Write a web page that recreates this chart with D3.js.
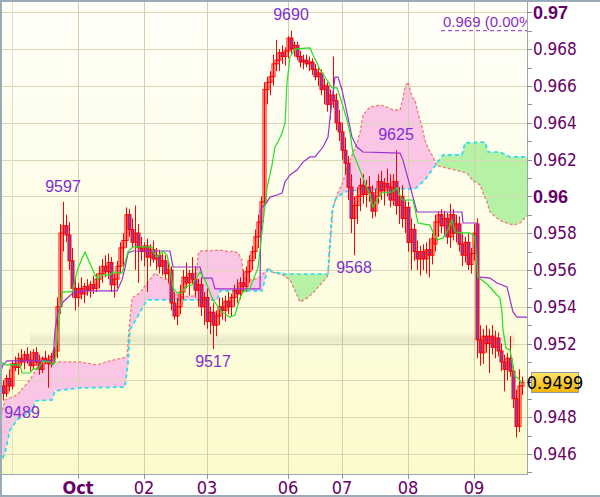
<!DOCTYPE html>
<html><head><meta charset="utf-8">
<script src="https://cdn.jsdelivr.net/npm/d3@7"></script>
<style>
html,body{margin:0;padding:0;background:#fff;}
svg{display:block;}
</style></head><body>
<svg id="chart" width="600" height="497"></svg>
<script>
// ---------- DATA (prices in pips: price x 10000) ----------
const opens  = [9497,9493,9501,9497,9509,9507,9512,9510,9514,9511,9508,9515,9510,9506,9512,9511,9509,9513,9516,9540,
9580,9584,9579,9565,9550,9545,9550,9547,9551,9549,9552,9550,9555,9558,9562,9559,9564,9552,9555,9562,
9572,9576,9590,9582,9575,9580,9572,9570,9573,9567,9571,9566,9568,9562,9565,9558,9560,9542,9535,9540,
9548,9556,9553,9558,9555,9549,9552,9540,9545,9532,9537,9530,9535,9540,9538,9543,9540,9545,9549,9547,
9553,9551,9559,9565,9570,9578,9586,9597,9658,9662,9665,9672,9674,9678,9676,9679,9686,9680,9682,9676,
9673,9674,9672,9673,9669,9665,9667,9658,9660,9650,9655,9652,9640,9635,9625,9618,9605,9588,9595,9600,
9606,9601,9605,9602,9592,9600,9608,9603,9607,9605,9598,9608,9595,9600,9588,9594,9575,9582,9570,9566,
9570,9566,9571,9568,9574,9586,9590,9584,9588,9578,9590,9580,9585,9574,9568,9575,9563,9569,9585,9522,
9515,9524,9520,9524,9518,9523,9516,9510,9506,9512,9505,9490,9475,9497];
const highs  = [9500,9503,9506,9511,9513,9515,9517,9516,9518,9516,9517,9518,9514,9513,9516,9514,9515,9518,9545,9585,
9597,9590,9586,9572,9556,9553,9556,9553,9555,9554,9557,9558,9562,9566,9568,9569,9567,9558,9565,9575,
9580,9594,9593,9588,9595,9585,9578,9575,9577,9574,9576,9572,9571,9569,9568,9564,9562,9548,9545,9552,
9560,9564,9560,9567,9562,9555,9556,9548,9550,9540,9542,9538,9545,9545,9546,9548,9547,9552,9555,9556,
9560,9562,9568,9573,9582,9590,9600,9662,9665,9668,9677,9685,9680,9682,9681,9687,9690,9684,9684,9679,
9677,9677,9676,9675,9672,9670,9669,9664,9662,9658,9676,9656,9647,9640,9632,9622,9612,9600,9605,9610,
9612,9609,9611,9606,9604,9612,9614,9610,9615,9612,9612,9625,9605,9606,9598,9597,9588,9585,9576,9573,
9574,9575,9577,9580,9590,9592,9593,9592,9591,9596,9593,9590,9589,9580,9578,9580,9572,9585,9588,9530,
9528,9530,9528,9530,9527,9526,9520,9514,9515,9524,9508,9495,9506,9502];
const lows   = [9489,9491,9494,9495,9505,9503,9508,9506,9509,9505,9506,9508,9503,9504,9509,9496,9507,9510,9512,9536,
9570,9575,9560,9545,9538,9540,9544,9542,9546,9545,9547,9548,9550,9553,9556,9555,9548,9545,9550,9558,
9560,9572,9578,9572,9560,9553,9565,9562,9548,9562,9564,9560,9558,9557,9555,9553,9538,9533,9530,9536,
9544,9550,9546,9552,9545,9540,9535,9530,9528,9525,9517,9524,9530,9533,9532,9536,9535,9540,9542,9544,
9548,9548,9553,9560,9566,9572,9580,9595,9650,9655,9660,9668,9668,9672,9671,9675,9677,9676,9674,9670,
9669,9670,9668,9666,9663,9660,9655,9650,9646,9642,9648,9636,9630,9620,9612,9598,9580,9568,9585,9592,
9596,9594,9597,9588,9589,9596,9598,9595,9600,9594,9595,9590,9585,9583,9580,9570,9560,9565,9560,9557,
9560,9558,9556,9563,9570,9578,9580,9578,9574,9572,9576,9575,9570,9562,9564,9560,9558,9565,9512,9508,
9509,9515,9504,9514,9512,9513,9505,9494,9500,9502,9485,9469,9472,9492];
const closes = [9493,9501,9497,9509,9507,9512,9510,9514,9511,9508,9515,9510,9506,9512,9511,9509,9513,9516,9540,9580,
9584,9579,9565,9550,9545,9550,9547,9551,9549,9552,9550,9555,9558,9562,9559,9564,9552,9555,9562,9572,
9576,9590,9582,9575,9580,9572,9570,9573,9567,9571,9566,9568,9562,9565,9558,9560,9542,9535,9540,9548,
9556,9553,9558,9555,9549,9552,9540,9545,9532,9537,9530,9535,9540,9538,9543,9540,9545,9549,9547,9553,
9551,9559,9565,9570,9578,9586,9597,9658,9662,9665,9672,9674,9678,9676,9679,9686,9680,9682,9676,9673,
9674,9672,9673,9669,9665,9667,9658,9660,9650,9655,9652,9640,9635,9625,9618,9605,9588,9595,9600,9606,
9601,9605,9602,9592,9600,9608,9603,9607,9605,9598,9608,9595,9600,9588,9594,9575,9582,9570,9566,9570,
9566,9571,9568,9577,9586,9590,9584,9588,9578,9590,9580,9585,9574,9568,9575,9563,9569,9580,9522,9515,
9524,9520,9524,9518,9523,9516,9510,9506,9512,9505,9490,9475,9497,9499];

// Tenkan-sen (green) [bar index, pips]
const tenkan = [[-1,9510.6],[0.67,9508.4],[5.67,9508.4],[6.33,9504],[9,9504],[10,9506.2],[11.67,9506.2],[13.33,9510.6],
[15.67,9510],[16.67,9508.4],[17.33,9510],[18.33,9527.4],[19.67,9548.1],[23,9548.1],[25,9561.1],[27.33,9569.8],
[30.67,9557.3],[31.67,9554.6],[32.33,9557.3],[35.67,9557.3],[36.67,9558.9],[39.67,9558.3],[40.67,9564.3],[41.67,9569.8],
[43.33,9572.5],[49.67,9572.5],[50,9569.8],[51.33,9567],[53.33,9570.3],[54.67,9568.1],[55.67,9561.1],[56.67,9550.2],
[58,9547.5],[59.67,9547.5],[60.67,9550.8],[63,9551.8],[64.67,9556.2],[65.67,9558.9],[67.33,9554.6],[70,9543.7],
[73,9537.2],[75.67,9534.4],[77.33,9535.5],[79,9544.8],[80,9548.1],[82.33,9550.2],[85,9561.1],[86.33,9580.6],
[88,9604.5],[89.67,9617],[90.67,9626.8],[91.67,9629.5],[93,9634.4],[94,9639.8],[94.67,9661.6],[95.67,9675.7],
[97.33,9680.1],[102.33,9680.6],[103.33,9676.8],[104.67,9672.5],[105.67,9668.6],[108,9663.2],[109.67,9658.9],[111.33,9658.9],
[113,9650.7],[114.67,9641.5],[115.67,9634.4],[116.67,9623.5],[118.33,9617],[120,9610],[122.33,9600.7],[123.33,9594.2],
[125,9599.1],[126.33,9601.8],[129.67,9602.4],[131.33,9604.5],[133,9598],[136.67,9598],[138.33,9585.5],[142.33,9584.4],
[143.33,9580.6],[144.67,9576.3],[146.67,9577.4],[148.33,9581.7],[149.67,9587.2],[150.67,9580.6],[153,9580.1],[155.67,9580.1],
[157.33,9577.9],[158.33,9556.2],[161.67,9551.8],[164.67,9546.4],[165.67,9544.8],[166.33,9537.2],[166.67,9527.4],[167.67,9517.6],
[169,9516.5],[170.67,9501.9],[171.67,9501.3],[173.33,9497.5]];

// Kijun-sen (purple) [bar index, pips]
const kijun = [[-1,9504],[0,9508.4],[1.33,9510.6],[16.67,9510.6],[17.33,9527.4],[18.33,9537.2],[20,9542.6],[23.33,9547.5],
[26.67,9548.6],[38,9548.6],[39.67,9554.6],[40.67,9561.1],[41.67,9569.2],[43.33,9570.3],[55.67,9570.3],[56.67,9561.6],
[65.67,9561.6],[66.67,9555.6],[69.67,9555.6],[70.67,9549.7],[85.67,9549.7],[86,9593.7],[87.33,9595.3],[89,9599.6],
[91.33,9600.7],[93,9601.8],[94,9607.8],[95.67,9611.6],[98,9614.3],[100,9618.6],[102.33,9621.4],[104,9621.4],
[105,9623.5],[106.67,9626.8],[108.33,9632.2],[109.67,9652.3],[110.67,9664.8],[111.67,9664.8],[113,9657.8],[114.67,9645.3],
[116.33,9632.2],[118,9626.8],[120,9624.1],[132.33,9623.5],[133.33,9619.7],[138,9591.5],[153,9591.5],[153.33,9585.5],
[158,9585.5],[158.33,9556.2],[162.33,9555.6],[164.67,9552.9],[168,9550.8],[170,9537.2],[171.33,9534.4],[174.67,9534.4]];

// Senkou span A (cyan edge) [bar index, pips]
const spanA = [[-1,9454.1],[0.67,9460.6],[2.33,9473.1],[4.67,9478.5],[10,9484],[10.67,9488.8],[16.33,9489.4],[17.33,9494.3],
[25.67,9495.9],[40.67,9496.4],[41.67,9509.5],[42.33,9527.4],[48,9543.7],[71.33,9543.7],[72.33,9548.6],[86.33,9548.6],
[88.33,9561.1],[89.67,9558.9],[94,9557.8],[108.33,9557.8],[109,9576.3],[109.67,9591.5],[110.67,9598],[112.33,9600.7],
[114,9602.4],[120,9604],[137.33,9604],[140.67,9608.9],[144.67,9618.1],[146.67,9622.5],[153,9622.5],[154,9629],
[160.67,9629.5],[161.67,9624.1],[165.67,9624.1],[169,9621.4],[174.67,9621.4]];

// Senkou span B (red edge) [bar index, pips]
const spanB = [[-1,9478.5],[0.67,9489.4],[4.67,9492.1],[9,9500.3],[11.33,9506.8],[14.67,9509.5],[18.33,9510],[25.67,9510],
[31.33,9508.4],[35.67,9510.6],[41.33,9512.7],[42,9527.4],[43,9544.8],[45.67,9547.5],[48.33,9553.5],[50.67,9558.3],
[52.33,9556.2],[54.67,9554.6],[56.67,9548.1],[59,9545.4],[64,9545.9],[65,9568.1],[65.67,9570.3],[72.33,9570.8],
[75.67,9569.8],[76.67,9570.3],[78.33,9569.2],[79.67,9565.4],[80,9557.3],[81.33,9554.6],[83.33,9554.6],[85.67,9556.2],
[88,9560],[88.33,9561.1],[89.67,9558.9],[93.33,9557.3],[95.67,9554.6],[98,9546.4],[99,9542.6],[101.33,9544.8],
[103.33,9547.5],[105.67,9551.8],[108,9556.2],[108.33,9557.8],[110,9593.7],[111.33,9600.7],[113.33,9607.8],[115,9617],
[118,9629],[119,9634.4],[120,9644.2],[122.33,9648.5],[125.67,9649.6],[128,9648.5],[130,9646.9],[132.33,9646.9],
[133.33,9653.4],[134,9659.4],[135,9662.1],[136.33,9654],[137.33,9652.3],[138.33,9645.3],[139.67,9637.7],[140.67,9630.6],
[141.67,9626.2],[143,9622.5],[144.67,9616.5],[146.67,9615.9],[154.67,9612.7],[156.33,9608.9],[159,9606.2],[160,9601.8],
[161.33,9596.9],[162.33,9591.5],[164.67,9588.2],[166.67,9586.1],[170,9584.4],[172.33,9585.5],[174,9588.2],[174.67,9589.3]];

// High / low marker labels
const markerText  = ["9489","9597","9517","9690","9568","9625"];
const markerBar   = [0,20,70,96,117,131];
const markerType  = ["low","high","low","high","low","high"];

// Axis labels
const dayLabels = ["Oct","02","03","06","07","08","09"];
const dayBars   = [25,47,68,95,113,135,157];
const extraGridBars = [3];
const yTickLabels = ["0.946","0.948","0.95","0.952","0.954","0.956","0.958","0.96","0.962","0.964","0.966","0.968","0.97"];
const lastPriceLabel = "0.9499";
const levelValue = [0.969];
const levelText  = ["0.969 (0.00%)"];

// ---------- CHART ----------
const svg = d3.select("#chart");
const PW = 527, PH = 474;
const x = d3.scaleLinear().domain([-1, 174.67]).range([0, PW]);
const y = d3.scaleLinear().domain([9449.13, 9706.68]).range([PH, 0]);

const defs = svg.append("defs");
const bg = defs.append("linearGradient").attr("id","bgGrad").attr("x1",0).attr("y1",0).attr("x2",0).attr("y2",1);
bg.append("stop").attr("offset","0%").attr("stop-color","#fffff9");
bg.append("stop").attr("offset","50%").attr("stop-color","#fdfde6");
bg.append("stop").attr("offset","100%").attr("stop-color","#fcfbcb");
const gold = defs.append("linearGradient").attr("id","goldGrad").attr("x1",0).attr("y1",0).attr("x2",0).attr("y2",1);
gold.append("stop").attr("offset","0%").attr("stop-color","#ffe46a");
gold.append("stop").attr("offset","100%").attr("stop-color","#f2b400");
const band = defs.append("linearGradient").attr("id","bandGrad").attr("x1",0).attr("y1",0).attr("x2",0).attr("y2",1);
band.append("stop").attr("offset","0%").attr("stop-color","#000").attr("stop-opacity",0);
band.append("stop").attr("offset","55%").attr("stop-color","#000").attr("stop-opacity",0.08);
band.append("stop").attr("offset","100%").attr("stop-color","#000").attr("stop-opacity",0);

defs.append("clipPath").attr("id","plotClip").append("rect").attr("x",0).attr("y",0).attr("width",PW).attr("height",PH);
defs.append("clipPath").attr("id","belowA").append("path")
  .attr("d", d3.area().x(d=>x(d[0])).y0(PH).y1(d=>y(d[1]))(spanA));
defs.append("clipPath").attr("id","aboveA").append("path")
  .attr("d", d3.area().x(d=>x(d[0])).y0(0).y1(d=>y(d[1]))(spanA));

svg.append("rect").attr("width",600).attr("height",497).attr("fill","#fff");
svg.append("rect").attr("x",0).attr("y",0).attr("width",PW).attr("height",PH).attr("fill","url(#bgGrad)");

const plot = svg.append("g").attr("clip-path","url(#plotClip)");

// cloud fills
plot.append("path").attr("clip-path","url(#belowA)")
  .attr("d", d3.area().x(d=>x(d[0])).y0(0).y1(d=>y(d[1]))(spanB))
  .attr("fill","#b6f2a6");
plot.append("path").attr("clip-path","url(#aboveA)")
  .attr("d", d3.area().x(d=>x(d[0])).y0(PH).y1(d=>y(d[1]))(spanB))
  .attr("fill","#fbc6e6");

// grid
const yTickVals = yTickLabels.map(s => Math.round(parseFloat(s)*10000));
plot.selectAll(".hg").data(yTickVals).enter().append("line")
  .attr("x1",0).attr("x2",PW).attr("y1",d=>Math.round(y(d))+0.5).attr("y2",d=>Math.round(y(d))+0.5)
  .attr("stroke","#d9d8b6").attr("stroke-width",1);
plot.selectAll(".vg").data(dayBars).enter().append("line")
  .attr("y1",0).attr("y2",PH).attr("x1",d=>Math.round(x(d))+0.5).attr("x2",d=>Math.round(x(d))+0.5)
  .attr("stroke","#d2d1ae").attr("stroke-width",1);
plot.selectAll(".vg2").data(extraGridBars).enter().append("line")
  .attr("y1",0).attr("y2",PH).attr("x1",d=>Math.round(x(d))+0.5).attr("x2",d=>Math.round(x(d))+0.5)
  .attr("stroke","#e2e1c6").attr("stroke-width",1);

// watermark band
plot.append("rect").attr("x",30).attr("y",331).attr("width",485).attr("height",17).attr("fill","url(#bandGrad)");

// cloud edges
const ln = d3.line().x(d=>x(d[0])).y(d=>y(d[1]));
plot.append("path").attr("d", ln(spanB)).attr("fill","none").attr("stroke","#f27a7a")
  .attr("stroke-width",1.3).attr("stroke-dasharray","3,2");
plot.append("path").attr("d", ln(spanA)).attr("fill","none").attr("stroke","#28dcec")
  .attr("stroke-width",1.7).attr("stroke-dasharray","4,3");

// candles
const bars = closes.map((c,i)=>({i, o:opens[i], h:highs[i], l:lows[i], c}));
const cg = plot.append("g");
cg.selectAll(".wick").data(bars).enter().append("line")
  .attr("x1",d=>Math.round(x(d.i))+0.5).attr("x2",d=>Math.round(x(d.i))+0.5)
  .attr("y1",d=>y(d.h)).attr("y2",d=>y(d.l))
  .attr("stroke","#ff0000").attr("stroke-width",1);
cg.selectAll(".body").data(bars).enter().append("rect")
  .attr("x",d=>Math.round(x(d.i))-1)
  .attr("width",3)
  .attr("y",d=>y(Math.max(d.o,d.c)))
  .attr("height",d=>Math.max(1, Math.abs(y(d.o)-y(d.c))))
  .attr("fill",d=>d.c<d.o ? "#8a3eb0" : "none")
  .attr("stroke","#ff0000").attr("stroke-width",1);

// tenkan / kijun
plot.append("path").attr("d", ln(kijun)).attr("fill","none").attr("stroke","#9b30d0").attr("stroke-width",1.2);
plot.append("path").attr("d", ln(tenkan)).attr("fill","none").attr("stroke","#22e022").attr("stroke-width",1.2);

// level line
levelValue.forEach((v,k)=>{
  const yy = y(v*10000);
  plot.append("line").attr("x1",441).attr("x2",PW).attr("y1",yy).attr("y2",yy)
    .attr("stroke","#8a2ccc").attr("stroke-width",1).attr("stroke-dasharray","4,3");
  plot.append("text").attr("x",443).attr("y",yy-4).text(levelText[k])
    .attr("font-family","'Liberation Sans', Arial, sans-serif").attr("font-size",15).attr("fill","#8a2ccc");
});

// markers
markerText.forEach((t,k)=>{
  const b = bars[markerBar[k]];
  const isHigh = markerType[k]==="high";
  const cx = Math.max(x(b.i), 22);
  const cy = isHigh ? y(b.h) - 16 : y(b.l) + 12;
  plot.append("text").attr("x",cx).attr("y",cy).attr("dy","0.36em").attr("text-anchor","middle").text(t)
    .attr("font-family","'Liberation Sans', Arial, sans-serif").attr("font-size",16).attr("fill","#7f2ed0");
});

// axes lines
svg.append("line").attr("x1",PW+0.5).attr("x2",PW+0.5).attr("y1",0).attr("y2",PH+1).attr("stroke","#9aa8b2");
svg.append("line").attr("x1",0).attr("x2",PW+1).attr("y1",PH+0.5).attr("y2",PH+0.5).attr("stroke","#9aa8b2");

// right axis ticks
const minor = d3.range(9450, 9701, 10);
svg.selectAll(".yt").data(minor).enter().append("line")
  .attr("x1",PW).attr("x2",PW+5).attr("y1",d=>Math.round(y(d))+0.5).attr("y2",d=>Math.round(y(d))+0.5)
  .attr("stroke","#8494a2");
const narrow = "'Liberation Sans Narrow','Arial Narrow','DejaVu Sans Condensed',sans-serif";
const lastY = y(closes[closes.length-1]);
// labels hidden behind the last-price box are not drawn
const shownY = yTickLabels.filter(d => Math.abs(y(parseFloat(d)*10000) - lastY) > 12);
svg.selectAll(".yl").data(shownY).enter().append("text")
  .attr("x",533).attr("y",d=>y(parseFloat(d)*10000)).attr("dy","0.36em")
  .text(d=>d)
  .attr("font-family", d=> d.length<=4 ? "'Liberation Sans',Arial,sans-serif" : narrow)
  .attr("font-weight", d=> d.length<=4 ? "bold" : "normal")
  .attr("font-size", d=> d.length<=4 ? 18 : 17)
  .attr("fill","#660066");

// bottom axis
svg.selectAll(".xt").data(dayBars).enter().append("line")
  .attr("x1",d=>Math.round(x(d))+0.5).attr("x2",d=>Math.round(x(d))+0.5).attr("y1",PH).attr("y2",PH+5)
  .attr("stroke","#8494a2");
svg.selectAll(".xl").data(dayLabels).enter().append("text")
  .attr("x",(d,i)=>x(dayBars[i])).attr("y",488).attr("dy","0.36em").attr("text-anchor","middle")
  .text(d=>d)
  .attr("font-family",narrow)
  .attr("font-weight",d=>d==="Oct"?"bold":"normal")
  .attr("font-size",18)
  .attr("fill","#660066");

// last price box
svg.append("line").attr("x1",PW).attr("x2",532).attr("y1",Math.round(lastY)+0.5).attr("y2",Math.round(lastY)+0.5).attr("stroke","#660066");
svg.append("rect").attr("x",531.5).attr("y",Math.round(lastY)-9.5).attr("width",47).attr("height",20)
  .attr("fill","url(#goldGrad)").attr("stroke","#8c9aa6");
svg.append("text").attr("x",555).attr("y",lastY).attr("dy","0.36em").attr("text-anchor","middle")
  .text(lastPriceLabel).attr("font-family",narrow).attr("font-size",18).attr("fill","#000");

// outer border (left, top, bottom)
svg.append("rect").attr("x",0).attr("y",0).attr("width",2).attr("height",497).attr("fill","#9aaab6");
svg.append("rect").attr("x",0).attr("y",0).attr("width",600).attr("height",2).attr("fill","#9aaab6");
svg.append("rect").attr("x",0).attr("y",495).attr("width",600).attr("height",2).attr("fill","#9aaab6");
</script>
</body></html>
